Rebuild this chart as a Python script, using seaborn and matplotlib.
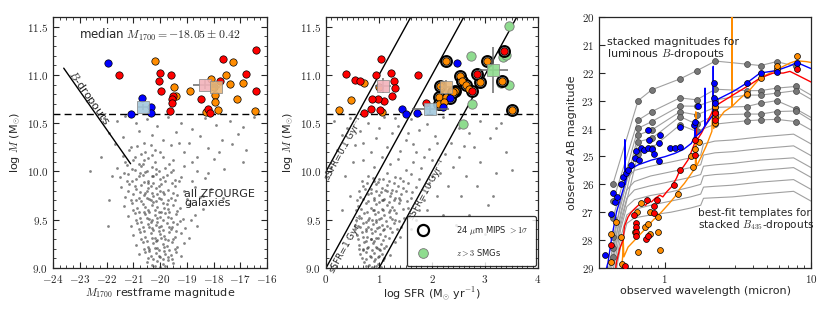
import numpy as np
import pandas as pd
import matplotlib
matplotlib.use("Agg")
import matplotlib.pyplot as plt
from matplotlib.ticker import MultipleLocator, FuncFormatter, NullFormatter, FixedLocator
from matplotlib.lines import Line2D
import seaborn as sns

# ---------------- panel 1 : M1700 vs mass ----------------
cloud1 = [(-22.1,10.55),(-21.6,10.52),(-21.3,10.57),(-20.9,10.50),(-20.5,10.54),(-20.1,10.47),(-19.7,10.56),
          (-19.2,10.50),(-18.8,10.44),(-18.3,10.55),(-17.9,10.48),(-17.4,10.52),(-16.9,10.46),(-16.5,10.56),
          (-21.9,10.40),(-21.4,10.36),(-20.8,10.42),(-20.3,10.38),(-19.9,10.33),(-19.4,10.41),(-18.9,10.30),
          (-18.5,10.37),(-17.7,10.33),(-17.1,10.39),(-21.7,10.28),(-21.1,10.25),(-20.6,10.30),(-20.2,10.22),
          (-19.6,10.27),(-19.1,10.20),(-18.2,10.24),(-16.8,10.22),
          (-22.6,10.01),(-21.95,9.43),(-22.2,10.15),(-21.8,9.95),(-21.9,9.70),
          (-21.4,10.16),(-21.0,10.12),(-20.7,10.18),(-20.45,10.14),(-20.2,10.10),(-19.9,10.15),(-19.5,10.12),
          (-18.8,10.10),(-18.0,10.13),
          (-21.6,10.04),(-21.25,10.07),(-20.95,10.02),(-20.7,10.06),(-20.5,10.01),(-20.3,10.05),(-20.05,10.00),
          (-19.8,10.04),(-19.5,10.02),(-19.1,10.06),(-18.6,10.00),(-17.6,10.03),
          (-21.5,9.94),(-21.2,9.97),(-20.9,9.92),(-20.65,9.96),(-20.45,9.90),(-20.25,9.95),(-20.0,9.92),
          (-19.75,9.96),(-19.45,9.91),(-19.2,9.94),(-18.8,9.90),(-18.3,9.93),
          (-21.45,9.84),(-21.15,9.87),(-20.9,9.82),(-20.7,9.86),(-20.5,9.80),(-20.35,9.85),(-20.15,9.83),
          (-19.95,9.87),(-19.7,9.81),(-19.45,9.85),(-19.1,9.80),(-18.7,9.84),(-18.1,9.82),
          (-21.3,9.74),(-21.0,9.77),(-20.8,9.72),(-20.6,9.76),(-20.4,9.71),(-20.25,9.75),(-20.05,9.73),
          (-19.85,9.77),(-19.6,9.72),(-19.35,9.76),(-19.0,9.71),(-18.5,9.74),
          (-21.35,9.64),(-21.05,9.67),(-20.85,9.62),(-20.65,9.66),(-20.45,9.60),(-20.3,9.65),(-20.1,9.63),
          (-19.9,9.67),(-19.7,9.61),(-19.5,9.65),(-19.25,9.62),(-18.9,9.66),(-18.4,9.61),
          (-21.2,9.54),(-20.95,9.57),(-20.75,9.52),(-20.55,9.56),(-20.4,9.51),(-20.2,9.55),(-20.0,9.53),
          (-19.8,9.57),(-19.6,9.52),(-19.4,9.56),(-19.15,9.51),(-18.7,9.55),
          (-21.1,9.44),(-20.85,9.47),(-20.65,9.42),(-20.45,9.46),(-20.3,9.41),(-20.15,9.45),(-19.95,9.43),
          (-19.75,9.47),(-19.55,9.42),(-19.35,9.46),(-19.05,9.41),(-18.6,9.44),
          (-21.0,9.34),(-20.75,9.37),(-20.55,9.32),(-20.35,9.36),(-20.2,9.31),(-20.0,9.35),(-19.85,9.33),
          (-19.65,9.37),(-19.45,9.32),(-19.2,9.36),(-18.9,9.31),
          (-20.9,9.24),(-20.65,9.27),(-20.45,9.22),(-20.25,9.26),(-20.1,9.21),(-19.9,9.25),(-19.75,9.23),
          (-19.55,9.27),(-19.35,9.22),(-19.1,9.26),
          (-20.8,9.14),(-20.55,9.17),(-20.35,9.12),(-20.15,9.16),(-20.0,9.11),(-19.8,9.15),(-19.6,9.13),
          (-19.4,9.17),(-19.2,9.12),
          (-20.5,9.06),(-20.3,9.03),(-20.1,9.07),(-19.9,9.04),(-19.7,9.08),(-19.5,9.05),
          (-20.35,9.48),(-20.05,9.38),(-19.95,9.58),(-20.25,9.68),(-20.55,9.78),(-20.15,9.28),(-19.85,9.18),
          (-20.45,9.88),(-20.75,9.98),(-19.65,9.42),(-20.6,9.58),(-20.1,9.52),(-19.8,9.30),(-20.4,9.20),
          (-20.9,9.70),(-20.0,9.80),(-20.3,9.95),(-20.65,10.08),(-21.05,9.90),(-19.7,9.70),
          (-21.15,10.22),(-20.85,10.26),(-20.55,10.20),(-20.35,10.27),(-20.95,10.15),(-20.6,10.12),(-20.3,10.17),
          (-20.0,10.20),(-21.3,10.10),(-20.8,10.08),(-20.15,10.03),(-19.65,10.08),
          (-21.35,9.98),(-21.05,10.03),(-20.8,9.95),(-20.55,9.99),(-20.15,9.97),(-19.9,9.94),(-19.6,9.99),
          (-21.25,9.90),(-20.95,9.85),(-20.6,9.89),(-20.25,9.88),(-20.05,9.85),(-19.8,9.90),(-19.55,9.88),
          (-19.3,9.90),(-21.2,9.80),(-20.75,9.79),(-20.45,9.83),(-20.3,9.78),(-20.1,9.77),(-19.9,9.79),
          (-19.5,9.78),(-21.1,9.70),(-20.7,9.69),(-20.5,9.73),(-20.35,9.70),(-20.15,9.69),(-19.95,9.71),
          (-19.75,9.66),(-19.45,9.70),(-21.0,9.60),(-20.8,9.58),(-20.55,9.63),(-20.4,9.58),(-20.2,9.60),
          (-20.05,9.58),(-19.85,9.62),(-19.65,9.58),(-19.35,9.59),(-20.9,9.50),(-20.7,9.48),(-20.5,9.52),
          (-20.3,9.50),(-20.1,9.48),(-19.9,9.50),(-19.7,9.53),(-19.5,9.48),(-19.25,9.49),(-20.8,9.40),
          (-20.6,9.38),(-20.4,9.42),(-20.25,9.39),(-20.05,9.42),(-19.9,9.39),(-19.6,9.40),(-19.4,9.38),
          (-20.7,9.30),(-20.5,9.28),(-20.3,9.31),(-20.1,9.29),(-19.95,9.31),(-19.7,9.29),(-19.5,9.30),
          (-20.6,9.20),(-20.4,9.18),(-20.2,9.21),(-20.05,9.19),(-19.85,9.22),(-19.65,9.19),(-19.45,9.20),
          (-20.45,9.10),(-20.25,9.09),(-20.05,9.12),(-19.9,9.09),(-19.7,9.11),(-19.55,9.09),
          (-20.2,9.02),(-20.0,9.01),(-19.8,9.02),
          (-18.6,10.15),(-18.2,9.98),(-17.8,10.2),(-19.3,10.3),(-18.4,9.75),(-17.3,10.28),(-16.9,10.10),
          (-18.85,9.5),(-17.65,9.72)]

m1700_blue = [-21.94, -20.69, -21.10, -20.34, -20.34]
mass_blue_1 = [11.12, 10.76, 10.60, 10.67, 10.61]
m1700_red = [-21.53, -20.0, -20.03, -19.95, -19.6, -19.53, -19.56, -19.56, -19.63, -17.65,
             -17.75, -18.45, -18.19, -18.15, -16.78, -16.4, -16.4]
mass_red_1 = [11.0, 11.02, 10.94, 10.83, 11.0, 10.78, 10.75, 10.71, 10.63, 11.16,
              10.94, 10.75, 10.65, 10.61, 11.01, 11.26, 10.83]
m1700_orange = [-20.19, -19.48, -19.40, -18.88, -18.0, -17.94, -17.94, -17.85, -18.29, -17.28,
                -17.54, -17.4, -16.9, -17.13, -16.44, -18.1]
mass_orange_1 = [11.14, 10.87, 10.78, 10.83, 10.87, 10.79, 10.72, 10.64, 10.62, 11.13,
                 11.0, 10.91, 10.92, 10.75, 10.63, 10.96]
# stacks: blue, pink(red), tan(orange)
stack1_m = [-20.63, -18.31, -17.90]
stack1_mass = [10.67, 10.90, 10.88]
stack1_merr = [0.2, 0.45, 0.15]
stack1_masserr = [0.03, 0.05, 0.05]
bdrop_m = [-23.6, -21.1]
bdrop_mass = [11.07, 10.08]

# ---------------- panel 2 : SFR vs mass ----------------
cloud2 = [(0.15,10.52),(0.45,10.55),(0.8,10.50),(1.1,10.56),(1.35,10.47),(1.6,10.54),(1.9,10.49),(2.2,10.56),
          (2.5,10.45),(2.9,10.52),(3.3,10.50),(0.3,10.38),(0.65,10.42),(0.95,10.35),(1.25,10.40),(1.5,10.33),
          (1.75,10.43),(2.05,10.37),(2.35,10.30),(2.7,10.40),(3.1,10.35),(0.2,10.22),(0.55,10.27),(0.85,10.20),
          (1.15,10.25),(1.4,10.21),(1.65,10.28),(1.95,10.23),(2.25,10.18),(2.6,10.26),(3.4,10.20),
          (2.4,10.05),(2.65,9.95),(2.9,10.10),(3.2,9.98),(2.55,9.75),(2.85,9.85),(3.05,9.65),(3.15,9.75),
          (2.7,9.55),(2.3,9.85),(2.45,9.45),(3.5,10.02),
          (0.1,10.05),(0.35,9.95),(0.5,10.1),(0.45,9.75),(0.3,9.6),(0.55,9.45),
          (0.7,10.12),(0.9,10.05),(1.05,10.15),(1.2,10.08),(1.35,10.13),(1.5,10.02),(1.65,10.10),(1.8,10.04),
          (2.0,10.12),(2.15,9.98),(0.8,9.95),(1.0,9.92),(1.15,9.98),(1.3,9.94),(1.45,9.90),(1.6,9.97),
          (1.75,9.92),(1.95,9.88),(2.1,9.75),
          (0.7,9.85),(0.85,9.82),(0.95,9.87),(1.05,9.83),(1.15,9.86),(1.25,9.81),(1.35,9.85),(1.5,9.80),(1.7,9.84),
          (0.65,9.74),(0.8,9.77),(0.9,9.72),(1.0,9.76),(1.1,9.71),(1.2,9.75),(1.3,9.73),(1.42,9.77),(1.6,9.72),
          (1.85,9.70),
          (0.6,9.64),(0.75,9.67),(0.85,9.62),(0.95,9.66),(1.05,9.61),(1.15,9.65),(1.25,9.63),(1.38,9.67),
          (1.55,9.62),(1.75,9.60),
          (0.62,9.54),(0.72,9.57),(0.82,9.52),(0.92,9.56),(1.0,9.51),(1.1,9.55),(1.2,9.53),(1.32,9.57),
          (1.48,9.52),(1.7,9.50),
          (0.6,9.44),(0.7,9.47),(0.8,9.42),(0.88,9.46),(0.97,9.41),(1.05,9.45),(1.15,9.43),(1.28,9.47),
          (1.42,9.42),(1.6,9.40),
          (0.58,9.34),(0.68,9.37),(0.78,9.32),(0.86,9.36),(0.94,9.31),(1.02,9.35),(1.12,9.33),(1.25,9.37),(1.4,9.32),
          (0.62,9.24),(0.72,9.27),(0.8,9.22),(0.88,9.26),(0.96,9.21),(1.04,9.25),(1.14,9.23),(1.3,9.27),
          (0.65,9.14),(0.75,9.17),(0.83,9.12),(0.9,9.16),(0.98,9.11),(1.06,9.15),(1.2,9.13),
          (0.72,9.06),(0.82,9.03),(0.9,9.07),(0.98,9.04),(1.08,9.08),
          (0.95,9.50),(1.05,9.70),(0.85,9.30),(1.1,9.40),(0.9,9.60),(1.0,9.20),(1.2,9.60),(0.8,9.50),(1.15,9.80),
          (0.75,9.40),(1.3,9.50),(1.0,9.00),(0.9,9.90),(1.4,9.70),(0.7,9.20),
          (0.68,9.90),(0.78,9.88),(0.88,9.93),(0.98,9.89),(1.08,9.92),(1.18,9.90),(1.28,9.88),(1.4,9.93),
          (1.55,9.88),(0.62,9.80),(0.74,9.82),(0.84,9.78),(0.94,9.80),(1.04,9.79),(1.12,9.81),(1.22,9.78),
          (1.32,9.80),(1.45,9.83),(1.62,9.79),(0.58,9.70),(0.7,9.71),(0.8,9.69),(0.9,9.70),(1.0,9.68),
          (1.08,9.70),(1.18,9.68),(1.28,9.70),(1.38,9.72),(1.52,9.69),(0.56,9.60),(0.66,9.61),(0.78,9.58),
          (0.88,9.60),(0.98,9.58),(1.08,9.60),(1.18,9.58),(1.28,9.60),(1.45,9.61),(0.56,9.50),(0.66,9.52),
          (0.76,9.48),(0.86,9.50),(0.94,9.48),(1.04,9.52),(1.14,9.49),(1.24,9.51),(1.38,9.49),(0.55,9.40),
          (0.65,9.42),(0.75,9.38),(0.84,9.40),(0.92,9.38),(1.0,9.42),(1.08,9.39),(1.2,9.41),(1.33,9.40),
          (0.6,9.30),(0.7,9.32),(0.76,9.28),(0.84,9.30),(0.9,9.28),(0.98,9.31),(1.08,9.29),(1.18,9.31),
          (0.62,9.20),(0.7,9.19),(0.78,9.21),(0.86,9.19),(0.94,9.22),(1.02,9.19),(1.1,9.21),
          (0.68,9.10),(0.76,9.09),(0.84,9.11),(0.92,9.09),(1.0,9.12),(1.1,9.10),
          (0.76,9.02),(0.86,9.01),(0.94,9.02),(1.04,9.01),
          (1.85,10.15),(2.1,10.3),(1.55,10.4),(1.0,10.45),(0.7,10.3),(1.3,10.55),(2.8,10.25),(3.2,10.45),
          (1.7,10.2),(2.0,9.95),(0.4,10.45),(2.5,10.15),(1.9,9.6),(2.2,9.55),(3.0,9.35)]

sfr_red = [0.38, 0.55, 0.65, 1.04, 0.94, 1.23, 1.29, 1.31, 1.25, 1.10, 0.99, 0.87, 0.84, 1.01, 0.72,
           1.73, 1.89, 2.85, 2.75, 3.36]
mass_red_2 = [11.01, 10.95, 10.94, 11.16, 11.0, 11.02, 10.94, 10.86, 10.78, 10.73, 10.75, 10.75, 10.65,
              10.64, 10.61, 11.0, 10.71, 11.01, 10.83, 11.25]
sfr_orange = [0.25, 0.48, 0.72, 1.06, 1.00, 2.27, 2.16, 2.13, 2.14, 2.26, 2.44, 2.53, 2.56, 2.64, 2.69,
              2.90, 3.03, 3.32, 3.51, 2.22, 2.40]
mass_orange_2 = [10.64, 10.74, 10.92, 10.62, 10.87, 11.14, 10.89, 10.77, 10.70, 10.77, 10.83, 10.99,
                 10.94, 10.90, 10.85, 10.93, 11.14, 10.94, 10.64, 10.72, 10.82]
sfr_blue = [2.47, 1.43, 1.50, 1.72, 2.21, 2.33]
mass_blue_2 = [11.12, 10.65, 10.60, 10.61, 10.67, 10.76]
sfr_smg = [3.45, 2.74, 3.34, 3.45, 3.30, 2.75, 2.58, 3.40]
mass_smg = [11.51, 11.20, 11.19, 10.90, 10.92, 10.70, 10.49, 11.21]
sfr_mips = [2.27, 2.16, 2.13, 2.14, 2.44, 2.53, 2.56, 2.64, 2.90, 3.03, 3.32, 3.51, 3.36, 2.85, 2.75, 2.33, 2.40]
mass_mips = [11.14, 10.89, 10.77, 10.70, 10.83, 10.99, 10.94, 10.90, 10.93, 11.14, 10.94, 10.64, 11.25,
             11.01, 10.83, 10.76, 10.82]
# stacks: pink, tan, blue, green
stack2_sfr = [1.07, 2.26, 1.97, 3.16]
stack2_mass = [10.89, 10.87, 10.65, 11.05]
stack2_sfrerr = [0.15, 0.12, 0.35, 0.28]
stack2_masserr = [0.08, 0.08, 0.04, 0.24]
ssfr_lines = [0.1, 1.0, 10.0]
ssfr_sfr_ends = [0.0, 4.0]

# ---------------- panel 3 : SEDs ----------------
stack_wave = [0.443, 0.657, 0.815, 1.27, 1.65, 2.22, 3.63, 4.52, 5.82, 7.9, 10.0]
stack_seds = [
    [25.97, 23.00, 22.61, 22.22, 21.93, 21.58, 21.69, 21.74, 21.60, 21.77, np.nan],
    [26.60, 23.70, 23.39, 22.90, 22.97, 22.59, 22.64, 22.64, 22.55, 22.49, 22.80],
    [27.20, 23.99, 23.75, 23.19, 23.20, 22.97, 22.80, 22.80, 22.73, 22.64, 22.95],
    [27.90, 24.23, 24.05, 23.40, 23.51, 23.24, 23.21, 23.09, 23.00, 23.30, 23.60],
    [28.30, 24.47, 24.35, 23.57, 23.84, 23.51, 23.48, 23.48, 23.39, 23.37, 23.70],
    [28.60, 24.90, 24.70, 23.87, 24.10, 23.84, 23.72, 23.69, 23.67, 23.75, 24.05],
]
tmpl_wave = [0.40, 0.45, 0.50, 0.55, 0.62, 0.80, 1.10, 1.50, 1.76, 1.84, 2.20, 2.90, 4.50, 7.60, 10.0]
tmpl_seds = [
    [29.4, 28.0, 26.6, 25.8, 25.5, 25.35, 25.2, 25.05, 24.95, 24.55, 24.45, 24.41, 24.30, 24.20, 24.55],
    [29.6, 28.3, 27.0, 26.2, 25.9, 25.70, 25.55, 25.40, 25.30, 24.95, 24.87, 24.83, 24.72, 24.62, 24.97],
    [29.8, 28.6, 27.3, 26.5, 26.2, 26.05, 25.90, 25.75, 25.65, 25.35, 25.30, 25.25, 25.13, 25.05, 25.40],
    [30.0, 28.9, 27.6, 26.8, 26.55, 26.40, 26.27, 26.10, 26.00, 25.70, 25.65, 25.61, 25.50, 25.40, 25.75],
    [30.2, 29.2, 27.9, 27.1, 26.9, 26.75, 26.60, 26.45, 26.35, 26.10, 26.07, 26.03, 25.92, 25.83, 26.18],
    [30.4, 29.5, 28.2, 27.4, 27.2, 27.10, 27.00, 26.85, 26.75, 26.50, 26.48, 26.45, 26.35, 26.25, 26.60],
]
blue_sed_wave = [0.395, 0.409, 0.431, 0.467, 0.505, 0.532, 0.533, 0.535, 0.561, 0.657, 0.811, 1.0, 1.17,
                 1.34, 1.52, 1.60, 1.61, 1.62, 1.70, 1.78, 1.88, 1.885, 1.89, 1.98, 2.14, 2.145, 2.15,
                 2.26, 2.94, 3.63, 4.48, 5.82, 7.18, 7.98, 8.41, 10.0]
blue_sed_mag = [29.1, 28.8, 28.0, 27.0, 26.4, 26.0, 24.4, 26.0, 25.5, 25.3, 25.13, 25.01, 24.89,
                24.75, 24.53, 24.29, 23.69, 24.29, 24.2, 24.11, 23.9, 22.55, 23.9, 23.75, 23.51, 21.77, 23.4,
                22.97, 22.67, 22.37, 22.01, 21.92, 21.75, 21.63, 21.68, 21.85]
red_sed_wave = [0.46, 0.467, 0.492, 0.519, 0.53, 0.561, 0.59, 0.623, 0.66, 0.692, 0.74, 0.78, 0.811, 0.86,
                0.924, 0.97, 1.03, 1.11, 1.2, 1.27, 1.34, 1.44, 1.52, 1.60, 1.64, 1.645, 1.65, 1.69, 1.78,
                1.93, 2.09, 2.2, 2.94, 3.82, 4.48, 5.52, 6.46, 7.18, 7.98, 8.86, 10.0]
red_sed_mag = [29.1, 28.8, 28.3, 28.0, 27.5, 27.17, 27.0, 26.87, 26.75, 26.69, 26.75, 26.6, 26.63, 26.5,
               26.39, 26.45, 26.27, 26.09, 25.79, 25.49, 25.37, 25.13, 24.83, 24.53, 24.5, 24.0, 24.45, 24.35,
               24.17, 23.81, 23.45, 23.2, 22.79, 22.43, 22.19, 22.01, 22.01, 21.95, 22.07, 22.19, 22.33]
orange_sed_wave = [0.505, 0.515, 0.52, 0.525, 0.561, 0.623, 0.72, 0.83, 0.95, 1.07, 1.17, 1.27, 1.36,
                   1.52, 1.62, 1.63, 1.64, 1.78, 1.93, 2.1, 2.14, 2.16, 2.3, 2.55, 2.88, 2.885, 2.89, 3.2,
                   3.82, 4.48, 5.52, 6.46, 7.18, 7.98, 9.3, 10.0]
orange_sed_mag = [29.1, 28.6, 28.0, 28.6, 28.25, 28.0, 27.65, 27.29, 26.99, 26.69, 26.45, 26.15, 25.97,
                  25.61, 25.4, 23.4, 25.37, 25.0, 24.6, 24.1, 22.5, 24.0, 23.7, 23.39, 23.21, 20.0, 23.2,
                  22.97, 22.61, 22.19, 21.95, 21.77, 21.65, 21.57, 21.6, 21.63]
blue_phot_wave = [0.389, 0.431, 0.443, 0.455, 0.474, 0.50, 0.518, 0.54, 0.561, 0.585, 0.63, 0.64, 0.664,
                  0.69, 0.72, 0.77, 0.777, 0.77, 0.82, 0.845, 0.914, 0.914, 0.924, 1.08, 1.18, 1.27, 1.27,
                  1.58, 1.62, 1.70, 2.17, 2.17, 2.2, 3.63, 4.52, 5.88, 7.98]
blue_phot_mag = [28.55, 27.07, 26.31, 26.63, 26.45, 26.0, 25.73, 25.61, 25.49, 25.31, 25.07, 24.8, 25.13,
                 24.68, 24.77, 24.68, 24.41, 24.05, 24.75, 24.93, 24.53, 25.16, 24.23, 24.71, 24.71, 24.65,
                 23.96, 23.87, 23.75, 23.2, 22.35, 22.91, 23.09, 22.37, 21.99, 21.98, 21.65]
orange_phot_wave = [0.431, 0.467, 0.43, 0.512, 0.50, 0.623, 0.657, 0.646, 0.69, 0.73, 0.77, 0.79, 0.79,
                    0.90, 0.90, 0.924, 1.23, 1.52, 1.55, 1.6, 1.72, 2.2, 2.2, 2.2, 2.2, 3.63, 4.52, 5.88,
                    5.88, 7.98]
orange_phot_mag = [27.77, 27.35, 28.79, 28.85, 27.9, 27.71, 28.43, 27.0, 26.67, 27.53, 27.41, 26.99, 27.77,
                   27.17, 27.71, 28.37, 26.33, 24.99, 25.37, 24.75, 24.47, 23.21, 23.39, 23.6, 23.81, 22.76,
                   22.19, 21.87, 21.77, 21.39]
red_phot_wave = [0.431, 0.532, 0.617, 0.636, 0.64, 0.64, 0.64, 0.749, 0.77, 0.76, 0.845, 0.845, 0.88, 1.16,
                 1.27, 1.6, 1.62, 2.2, 2.2, 7.98]
red_phot_mag = [28.17, 28.93, 27.11, 27.39, 27.53, 27.71, 27.87, 27.95, 27.87, 26.57, 26.79, 27.03, 26.55,
                26.03, 25.49, 24.95, 24.41, 23.45, 23.69, 21.87]

# ---------------- style ----------------
sns.set_style("ticks", {"xtick.direction": "in", "ytick.direction": "in"})
plt.rcParams["font.family"] = ["DejaVu Sans"]
plt.rcParams["mathtext.fontset"] = "cm"
plt.rcParams["axes.linewidth"] = 0.9

RED, ORANGE, BLUE = "#ff0000", "#ff8c00", "#0000ff"
PINK, TAN, LBLUE, GREEN = "#f2b3bb", "#e8b679", "#a3c8dc", "#8fdc8f"
GRAYPT = "#333333"
TICKFS, LABFS = 8, 8

fig = plt.figure(figsize=(8.3, 3.12), dpi=100)
ax1 = fig.add_axes([0.0639, 0.141, 0.2578, 0.8045])
ax2 = fig.add_axes([0.3928, 0.141, 0.2554, 0.8045])
ax3 = fig.add_axes([0.7217, 0.141, 0.2554, 0.8045])


def mathfmt(fmt):
    return FuncFormatter(lambda v, p: "$" + (fmt % v) + "$")


def colored(ax, x, y, c, s=28, z=4):
    sns.scatterplot(x=x, y=y, ax=ax, color=c, s=s, edgecolor="k", linewidth=0.5, legend=False, zorder=z)


# ---------- panel 1 ----------
c1 = pd.DataFrame(cloud1, columns=["m", "mass"])
sns.scatterplot(data=c1, x="m", y="mass", ax=ax1, color=GRAYPT, s=4, alpha=0.6, linewidth=0, legend=False)
ax1.axhline(10.6, color="k", lw=1.0, ls=(0, (5, 3)), zorder=2)
sns.lineplot(x=bdrop_m, y=bdrop_mass, ax=ax1, color="k", lw=1.0, sort=False, estimator=None)
colored(ax1, m1700_orange, mass_orange_1, ORANGE)
colored(ax1, m1700_red, mass_red_1, RED)
colored(ax1, m1700_blue, mass_blue_1, BLUE)
for x, y, xe, ye, c in zip(stack1_m, stack1_mass, stack1_merr, stack1_masserr, [LBLUE, PINK, TAN]):
    ax1.errorbar(x, y, xerr=xe, yerr=ye, fmt="s", ms=8, mfc=c, mec="#888888", mew=0.6, ecolor="#666666",
                 elinewidth=1.2, alpha=0.9, zorder=5)
ax1.text(0.5, 0.93, r"median $M_{1700}=-18.05\pm0.42$", transform=ax1.transAxes, ha="center", va="center",
         fontsize=8.5)
ax1.text(-22.65, 10.76, r"$B$-dropouts", rotation=-55, ha="center", va="center", fontsize=8)
ax1.text(-19.1, 9.72, "all ZFOURGE\ngalaxies", ha="left", va="center", fontsize=8, linespacing=0.9)
ax1.set_xlim(-24, -16)
ax1.set_ylim(9.0, 11.6)
ax1.xaxis.set_major_locator(MultipleLocator(1))
ax1.xaxis.set_minor_locator(MultipleLocator(0.25))
ax1.yaxis.set_major_locator(MultipleLocator(0.5))
ax1.yaxis.set_minor_locator(MultipleLocator(0.1))
ax1.xaxis.set_major_formatter(mathfmt("%g"))
ax1.yaxis.set_major_formatter(mathfmt("%.1f"))
ax1.set_xlabel(r"$M_{1700}$ restframe magnitude", fontsize=LABFS, labelpad=1)
ax1.set_ylabel(r"log $M$ (M$_{\odot}$)", fontsize=LABFS, labelpad=3)

# ---------- panel 2 ----------
c2 = pd.DataFrame(cloud2, columns=["sfr", "mass"])
sns.scatterplot(data=c2, x="sfr", y="mass", ax=ax2, color=GRAYPT, s=4, alpha=0.6, linewidth=0, legend=False)
ax2.axhline(10.6, color="k", lw=1.0, ls=(0, (5, 3)), zorder=2)
for ss in ssfr_lines:
    sns.lineplot(x=ssfr_sfr_ends, y=[v + 9 - np.log10(ss) for v in ssfr_sfr_ends], ax=ax2, color="k",
                 lw=1.0, sort=False, estimator=None)
ax2.text(0.36, 10.24, r"sSFR=0.1 Gyr$^{-1}$", rotation=61, ha="center", va="center", fontsize=6.5)
ax2.text(0.42, 9.24, r"sSFR=1 Gyr$^{-1}$", rotation=61, ha="center", va="center", fontsize=6.5)
ax2.text(1.92, 9.81, r"sSFR=10 Gyr$^{-1}$", rotation=61, ha="center", va="center", fontsize=6.5)
sns.scatterplot(x=sfr_smg, y=mass_smg, ax=ax2, color=GREEN, s=45, edgecolor="#777777", linewidth=0.6,
                legend=False, zorder=3)
sns.scatterplot(x=sfr_mips, y=mass_mips, ax=ax2, color="#a0a0a0", s=62, edgecolor="k", linewidth=1.4,
                legend=False, zorder=4)
colored(ax2, sfr_orange, mass_orange_2, ORANGE, z=5)
colored(ax2, sfr_red, mass_red_2, RED, z=5)
colored(ax2, sfr_blue, mass_blue_2, BLUE, z=5)
for x, y, xe, ye, c in zip(stack2_sfr, stack2_mass, stack2_sfrerr, stack2_masserr, [PINK, TAN, LBLUE, GREEN]):
    ax2.errorbar(x, y, xerr=xe, yerr=ye, fmt="s", ms=8, mfc=c, mec="#888888", mew=0.6, ecolor="#666666",
                 elinewidth=1.2, alpha=0.9, zorder=6)
handles = [Line2D([], [], ls="", marker="o", ms=8, mfc="white", mec="k", mew=1.6),
           Line2D([], [], ls="", marker="o", ms=7, mfc=GREEN, mec="#777777", mew=0.6)]
leg = ax2.legend(handles, [r"24 $\mu$m MIPS $>1\sigma$", r"$z>3$ SMGs"], loc="lower right", fontsize=6,
                 frameon=True, fancybox=True, edgecolor="k", handletextpad=3.0, borderpad=0.9,
                 labelspacing=1.3, borderaxespad=0.3)
leg.get_frame().set_linewidth(0.9)
ax2.set_xlim(0, 4)
ax2.set_ylim(9.0, 11.6)
ax2.xaxis.set_major_locator(MultipleLocator(1))
ax2.xaxis.set_minor_locator(MultipleLocator(0.1))
ax2.yaxis.set_major_locator(MultipleLocator(0.5))
ax2.yaxis.set_minor_locator(MultipleLocator(0.1))
ax2.xaxis.set_major_formatter(mathfmt("%g"))
ax2.yaxis.set_major_formatter(mathfmt("%.1f"))
ax2.set_xlabel(r"log SFR (M$_{\odot}$ yr$^{-1}$)", fontsize=LABFS, labelpad=1)
ax2.set_ylabel(r"log $M$ (M$_{\odot}$)", fontsize=LABFS, labelpad=3)

for ax in (ax1, ax2):
    ax.tick_params(which="both", top=True, right=True, labelsize=TICKFS)
    ax.tick_params(which="major", length=4, width=0.8)
    ax.tick_params(which="minor", length=2, width=0.6)

# ---------- panel 3 ----------
for sed in tmpl_seds:
    sns.lineplot(x=tmpl_wave, y=sed, ax=ax3, color="#a0a0a0", lw=0.8, sort=False, estimator=None, zorder=1)
for sed in stack_seds:
    sns.lineplot(x=stack_wave, y=sed, ax=ax3, color="#a0a0a0", lw=0.8, sort=False, estimator=None, zorder=1)
    sns.scatterplot(x=stack_wave[:-1], y=sed[:-1], ax=ax3, color="#777777", s=18, edgecolor="#444444",
                    linewidth=0.5, legend=False, zorder=2)
sns.lineplot(x=orange_sed_wave, y=orange_sed_mag, ax=ax3, color=ORANGE, lw=1.0, sort=False, estimator=None, zorder=3)
sns.lineplot(x=red_sed_wave, y=red_sed_mag, ax=ax3, color=RED, lw=1.0, sort=False, estimator=None, zorder=3)
sns.lineplot(x=blue_sed_wave, y=blue_sed_mag, ax=ax3, color=BLUE, lw=1.0, sort=False, estimator=None, zorder=3)
colored(ax3, orange_phot_wave, orange_phot_mag, ORANGE, s=18, z=4)
colored(ax3, red_phot_wave, red_phot_mag, RED, s=18, z=4)
colored(ax3, blue_phot_wave, blue_phot_mag, BLUE, s=18, z=4)
ax3.text(0.405, 20.72, "stacked magnitudes for\nluminous $B$-dropouts", ha="left", va="top", fontsize=8,
         linespacing=1.0)
ax3.text(1.68, 26.85, "best-fit templates for\nstacked $B_{435}$-dropouts", ha="left", va="top", fontsize=7.6,
         linespacing=1.0)
ax3.set_xscale("log")
ax3.set_xlim(0.355, 10)
ax3.set_ylim(29, 20)
ax3.xaxis.set_major_locator(FixedLocator([1, 10]))
ax3.xaxis.set_major_formatter(mathfmt("%g"))
ax3.xaxis.set_minor_locator(FixedLocator([0.4, 0.5, 0.6, 0.7, 0.8, 0.9, 2, 3, 4, 5, 6, 7, 8, 9]))
ax3.xaxis.set_minor_formatter(NullFormatter())
ax3.yaxis.set_major_locator(MultipleLocator(1))
ax3.yaxis.set_major_formatter(mathfmt("%d"))
ax3.tick_params(which="both", labelsize=TICKFS)
ax3.tick_params(which="major", length=4, width=0.8)
ax3.tick_params(which="minor", length=2, width=0.6)
ax3.set_xlabel("observed wavelength (micron)", fontsize=LABFS, labelpad=1)
ax3.set_ylabel("observed AB magnitude", fontsize=LABFS, labelpad=3)

fig.savefig("out.png", dpi=100, facecolor="white")
